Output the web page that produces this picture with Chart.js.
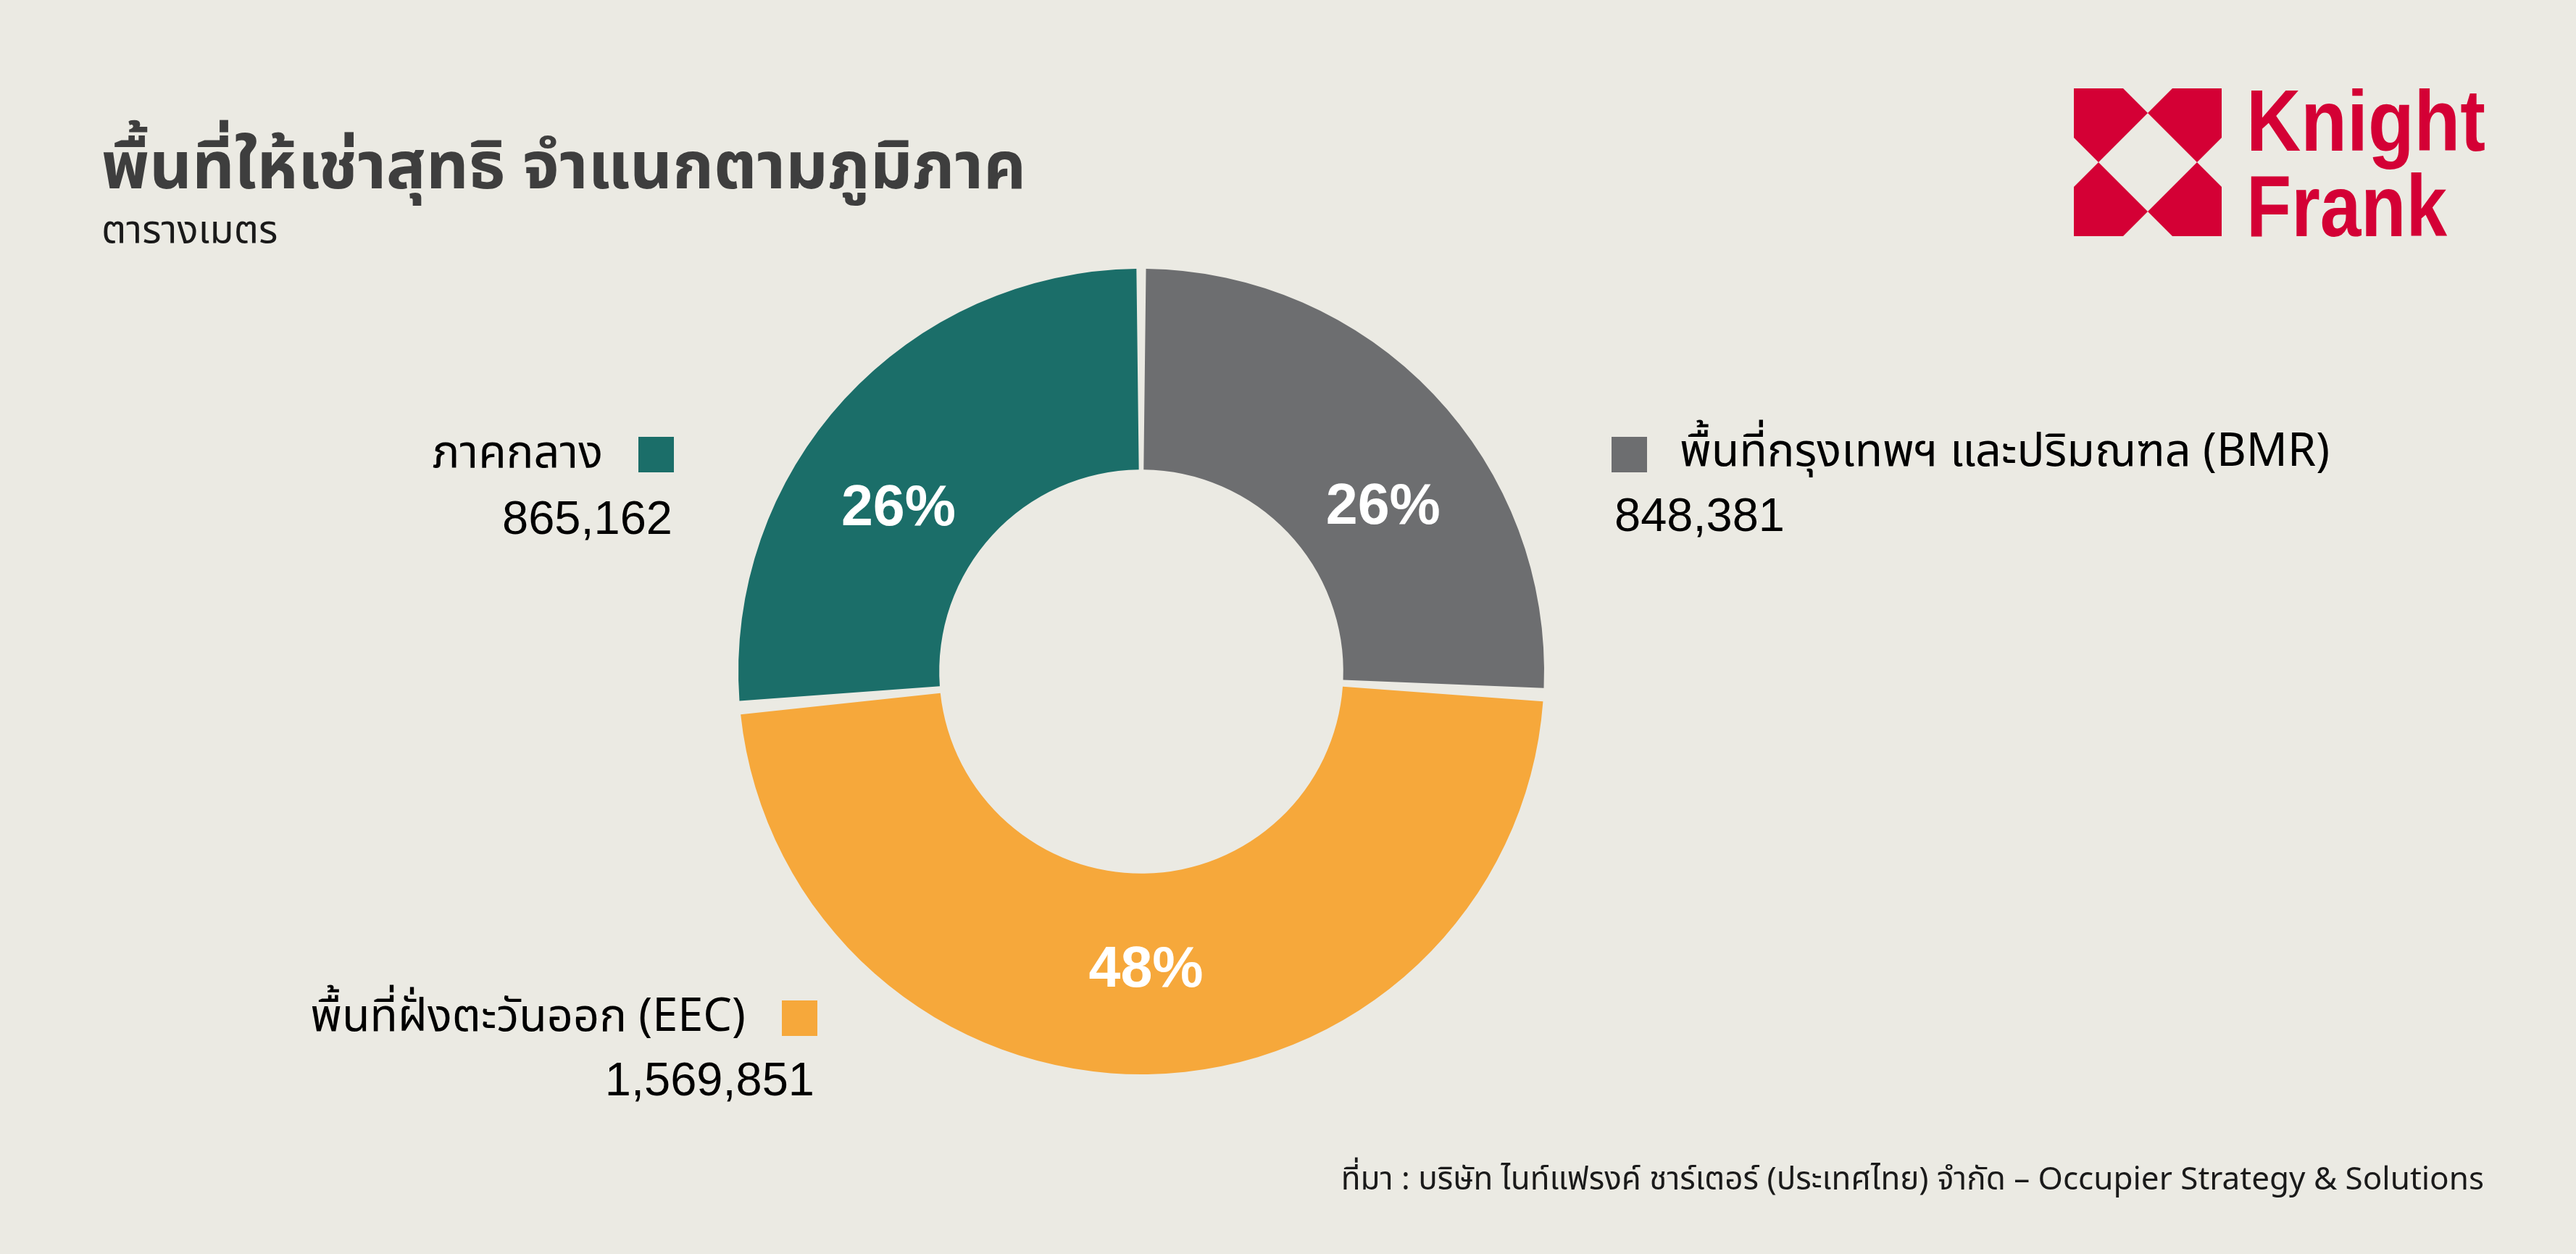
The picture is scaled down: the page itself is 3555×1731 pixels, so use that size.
<!DOCTYPE html>
<html>
<head>
<meta charset="utf-8">
<script src="https://cdn.jsdelivr.net/npm/chart.js@4.4.0/dist/chart.umd.min.js"></script>
<style>
  html, body { margin: 0; padding: 0; background: #ebeae3; }
  #wrap { position: relative; width: 3555px; height: 1731px; overflow: hidden; }
  #c { position: absolute; left: 0; top: 0; }
  #logo { position: absolute; left: 2862px; top: 122px; }
</style>
</head>
<body>
<div id="wrap">
  <canvas id="c" width="3555" height="1731"></canvas>
  <svg id="logo" width="580" height="210" viewBox="0 0 580 210">
    <g fill="#d40035">
      <polygon points="0,0 68,0 102,34 34,102 0,68"/>
      <polygon points="204,0 136,0 102,34 170,102 204,68"/>
      <polygon points="0,204 68,204 102,170 34,102 0,136"/>
      <polygon points="204,204 136,204 102,170 170,102 204,136"/>
      <text x="238" y="86" font-family="Liberation Sans" font-weight="bold" font-size="120" textLength="330" lengthAdjust="spacingAndGlyphs">Knight</text>
      <text x="238" y="204" font-family="Liberation Sans" font-weight="bold" font-size="120" textLength="277" lengthAdjust="spacingAndGlyphs">Frank</text>
    </g>
  </svg>
</div>
<script>
// data
const regions = ['พื้นที่กรุงเทพฯ และปริมณฑล (BMR)', 'พื้นที่ฝั่งตะวันออก (EEC)', 'ภาคกลาง'];
const areaSqm = [848381, 1569851, 865162];
const sliceColors = ['#6d6e70', '#f6a83b', '#1b6e69'];

const titleText = 'พื้นที่ให้เช่าสุทธิ จำแนกตามภูมิภาค';
const unitText = 'ตารางเมตร';
const sourceText = 'ที่มา : บริษัท ไนท์แฟรงค์ ชาร์เตอร์ (ประเทศไทย) จำกัด – Occupier Strategy & Solutions';

// where each legend block sits (same order as regions)
const legendSpots = [
  { align: 'left',  box: [2224, 603],  label: [2318, 643],  value: [2228, 733] },
  { align: 'right', box: [1079, 1381], label: [1029, 1423], value: [1124, 1512] },
  { align: 'right', box: [881, 603],   label: [832, 645],   value: [928, 737] }
];
// small angular nudges (deg) for the % labels, like the original
const pctNudge = [8.7, 0, -8.1];

const thaiFont = '"Noto Sans Thai", "Noto Sans", "Liberation Sans", sans-serif';
const numFont = '"Liberation Sans", Arial, sans-serif';

const textPlugin = {
  id: 'texts',
  afterDraw(chart) {
    const ctx = chart.ctx;
    ctx.save();
    ctx.textBaseline = 'alphabetic';

    // title + unit
    ctx.fillStyle = '#3e3e3e';
    ctx.textAlign = 'left';
    ctx.font = 'bold 91px ' + thaiFont;
    ctx.fillText(titleText, 140, 260);
    ctx.fillStyle = '#1a1a1a';
    ctx.font = '54px ' + thaiFont;
    ctx.fillText(unitText, 140, 335);

    // legend blocks
    regions.forEach((name, i) => {
      const s = legendSpots[i];
      ctx.fillStyle = sliceColors[i];
      ctx.fillRect(s.box[0], s.box[1], 49, 49);
      ctx.fillStyle = '#000';
      ctx.textAlign = s.align;
      ctx.font = '63px ' + thaiFont;
      ctx.fillText(name, s.label[0], s.label[1]);
      ctx.font = '65px ' + numFont;
      ctx.fillText(areaSqm[i].toLocaleString('en-US'), s.value[0], s.value[1]);
    });

    // source
    ctx.fillStyle = '#1a1a1a';
    ctx.textAlign = 'right';
    ctx.font = '44px ' + thaiFont;
    ctx.fillText(sourceText, 3428, 1642);
    ctx.restore();
  },
  afterDatasetsDraw(chart) {
    const ctx = chart.ctx;
    const meta = chart.getDatasetMeta(0);
    const total = areaSqm.reduce((a, b) => a + b, 0);
    ctx.save();
    ctx.fillStyle = '#ffffff';
    ctx.textAlign = 'center';
    ctx.textBaseline = 'alphabetic';
    ctx.font = 'bold 79px ' + numFont;
    meta.data.forEach((arc, i) => {
      const p = arc.getProps(['x', 'y', 'startAngle', 'endAngle', 'innerRadius', 'outerRadius'], true);
      const a = (p.startAngle + p.endAngle) / 2 + pctNudge[i] * Math.PI / 180;
      const r = (p.innerRadius + p.outerRadius) / 2 - 5;
      const x = p.x + Math.cos(a) * r;
      const y = p.y + Math.sin(a) * r;
      ctx.fillText(Math.round(areaSqm[i] / total * 100) + '%', x, y + 79 * 0.358);
    });
    ctx.restore();
  }
};

new Chart(document.getElementById('c'), {
  type: 'doughnut',
  data: {
    labels: regions,
    datasets: [{
      data: areaSqm,
      backgroundColor: sliceColors,
      borderWidth: 0,
      spacing: 12
    }]
  },
  options: {
    responsive: false,
    animation: false,
    devicePixelRatio: 1,
    radius: 550,
    cutout: '49.6%',
    layout: { padding: { left: 0, right: 405, top: 123, bottom: 0 } },
    plugins: { legend: { display: false }, tooltip: { enabled: false } }
  },
  plugins: [textPlugin]
});
</script>
</body>
</html>
